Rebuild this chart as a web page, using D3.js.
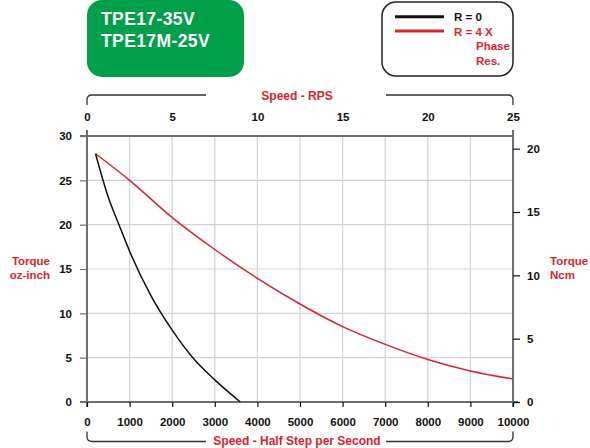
<!DOCTYPE html>
<html><head><meta charset="utf-8">
<script src="https://cdn.jsdelivr.net/npm/d3@7"></script>
<style>
body{margin:0;background:#fff;}
svg{display:block;font-family:"Liberation Sans",Arial,Helvetica,sans-serif;}
</style></head>
<body><svg id="c" width="590" height="448"></svg>
<script>
const titleLines = ["TPE17-35V", "TPE17M-25V"];
const legendLabels = ["R = 0", "R = 4 X", "Phase", "Res."];
const speedHS = [0, 1000, 2000, 3000, 4000, 5000, 6000, 7000, 8000, 9000, 10000];
const rpsTicks = [0, 5, 10, 15, 20, 25];
const ozTicks = [0, 5, 10, 15, 20, 25, 30];
const ncmTicks = [0, 5, 10, 15, 20];
// R = 0 curve (speed half-steps/s, torque oz-in)
const blackX = [200, 500, 750, 1000, 1500, 2000, 2500, 3000, 3600];
const blackY = [28, 23.1, 20.0, 17.0, 12.0, 8.1, 4.9, 2.5, 0];
// R = 4x phase res curve
const redX = [200, 1000, 2000, 3000, 4000, 5000, 6000, 7000, 8000, 9000, 10000];
const redY = [28, 25.0, 20.8, 17.2, 13.95, 11.05, 8.5, 6.5, 4.8, 3.5, 2.6];

const RED = "#d9252f", GREEN = "#00a04b", AXIS = "#6e6e6e", GRID = "#d2d3d8";
const svg = d3.select("#c");
const x = d3.scaleLinear().domain([0, 10000]).range([87, 513]);
const xr = d3.scaleLinear().domain([0, 25]).range([87, 513]);
const y = d3.scaleLinear().domain([0, 30]).range([402, 136]);
const yr = d3.scaleLinear().domain([0, 21]).range([402, 136]);

// grid
svg.append("g").selectAll("line").data(speedHS.slice(1, -1)).join("line")
  .attr("x1", d => x(d)).attr("x2", d => x(d)).attr("y1", y(30)).attr("y2", y(0))
  .attr("stroke", GRID).attr("stroke-width", 1.2);
svg.append("g").selectAll("line").data(ozTicks.slice(1, -1)).join("line")
  .attr("x1", x(0)).attr("x2", x(10000)).attr("y1", d => y(d)).attr("y2", d => y(d))
  .attr("stroke", GRID).attr("stroke-width", 1.2);

// frame lines
svg.append("line").attr("x1", 80).attr("x2", 518).attr("y1", y(0)).attr("y2", y(0)).attr("stroke", AXIS).attr("stroke-width", 2);
svg.append("line").attr("x1", 80).attr("x2", 513).attr("y1", y(30)).attr("y2", y(30)).attr("stroke", AXIS).attr("stroke-width", 2);
svg.append("line").attr("x1", x(0)).attr("x2", x(0)).attr("y1", 130).attr("y2", 407).attr("stroke", AXIS).attr("stroke-width", 2);
svg.append("line").attr("x1", x(10000)).attr("x2", x(10000)).attr("y1", 130).attr("y2", 407).attr("stroke", AXIS).attr("stroke-width", 2);

function styleAxis(g, tickColor) {
  g.select(".domain").remove();
  g.selectAll(".tick line").attr("stroke", tickColor).attr("stroke-width", 1.2);
  g.selectAll(".tick text").attr("font-family", "Liberation Sans, Arial, sans-serif")
    .attr("font-size", 11.5).attr("font-weight", "bold").attr("fill", "#111");
}
// left axis
svg.append("g").attr("transform", `translate(${x(0)},0)`)
  .call(d3.axisLeft(y).tickValues(ozTicks).tickSize(7).tickPadding(8).tickFormat(d3.format("d")))
  .call(g => styleAxis(g, AXIS));
// right axis
svg.append("g").attr("transform", `translate(${x(10000)},0)`)
  .call(d3.axisRight(yr).tickValues(ncmTicks).tickSize(7).tickPadding(7).tickFormat(d3.format("d")))
  .call(g => styleAxis(g, "#111"));
// bottom axis
svg.append("g").attr("transform", `translate(0,${y(0)})`)
  .call(d3.axisBottom(x).tickValues(speedHS).tickSize(5).tickPadding(11).tickFormat(d3.format("d")))
  .call(g => styleAxis(g, "#111"));
// top axis (labels only)
svg.append("g").attr("transform", `translate(0,126)`)
  .call(d3.axisTop(xr).tickValues(rpsTicks).tickSize(0).tickPadding(5).tickFormat(d3.format("d")))
  .call(g => styleAxis(g, "none"));

// curves
const line = d3.line().curve(d3.curveMonotoneX);
svg.append("path").attr("d", line(redX.map((v, i) => [x(v), y(redY[i])])))
  .attr("fill", "none").attr("stroke", RED).attr("stroke-width", 1.5);
svg.append("path").attr("d", line(blackX.map((v, i) => [x(v), y(blackY[i])])))
  .attr("fill", "none").attr("stroke", "#111").attr("stroke-width", 1.5);

// braces
function brace(yLine, yEnd, gapL, gapR) {
  const r = 5, L = x(0), R = x(10000);
  const dir = yEnd > yLine ? 1 : -1;
  const p = d3.path();
  p.moveTo(L, yEnd);
  p.lineTo(L, yLine + dir * r);
  p.quadraticCurveTo(L, yLine, L + r, yLine);
  p.lineTo(gapL, yLine);
  p.moveTo(gapR, yLine);
  p.lineTo(R - r, yLine);
  p.quadraticCurveTo(R, yLine, R, yLine + dir * r);
  p.lineTo(R, yEnd);
  svg.append("path").attr("d", p.toString()).attr("fill", "none").attr("stroke", "#333").attr("stroke-width", 1.3);
}
brace(95, 105, 206, 386);
brace(441.5, 431.5, 206, 386);
svg.append("text").attr("x", 297).attr("y", 99.5).attr("text-anchor", "middle")
  .attr("font-size", 12).attr("font-weight", "bold").attr("fill", RED).text("Speed - RPS");
svg.append("text").attr("x", 297).attr("y", 445.3).attr("text-anchor", "middle")
  .attr("font-size", 12).attr("font-weight", "bold").attr("fill", RED).text("Speed - Half Step per Second");

// y titles
const lt = svg.append("text").attr("font-size", 11.5).attr("font-weight", "bold").attr("fill", RED).attr("text-anchor", "end");
lt.append("tspan").attr("x", 50).attr("y", 265).text("Torque");
lt.append("tspan").attr("x", 50).attr("y", 279).text("oz-inch");
const rt = svg.append("text").attr("font-size", 11.5).attr("font-weight", "bold").attr("fill", RED);
rt.append("tspan").attr("x", 550).attr("y", 265).text("Torque");
rt.append("tspan").attr("x", 550).attr("y", 279).text("Ncm");

// title box
svg.append("rect").attr("x", 87).attr("y", 0).attr("width", 157).attr("height", 77).attr("rx", 15)
  .attr("fill", GREEN);
const tt = svg.append("text").attr("font-size", 17.5).attr("font-weight", "bold").attr("fill", "#fff")
  .attr("letter-spacing", 0.4);
titleLines.forEach((t, i) => tt.append("tspan").attr("x", 101).attr("y", 25 + i * 21.5).text(t));

// legend box
svg.append("rect").attr("x", 382).attr("y", 2).attr("width", 131).attr("height", 74).attr("rx", 14)
  .attr("fill", "#fff").attr("stroke", "#222").attr("stroke-width", 1.5);
svg.append("line").attr("x1", 395).attr("x2", 444).attr("y1", 16.7).attr("y2", 16.7).attr("stroke", "#111").attr("stroke-width", 3);
svg.append("line").attr("x1", 395).attr("x2", 444).attr("y1", 31).attr("y2", 31).attr("stroke", RED).attr("stroke-width", 3);
const lg = svg.append("g").attr("font-size", 11.5).attr("font-weight", "bold");
lg.append("text").attr("x", 454).attr("y", 20.5).attr("fill", "#111").text(legendLabels[0]);
lg.append("text").attr("x", 454).attr("y", 35.5).attr("fill", RED).text(legendLabels[1]);
lg.append("text").attr("x", 476).attr("y", 50).attr("fill", RED).text(legendLabels[2]);
lg.append("text").attr("x", 476).attr("y", 65).attr("fill", RED).text(legendLabels[3]);
</script></body></html>
